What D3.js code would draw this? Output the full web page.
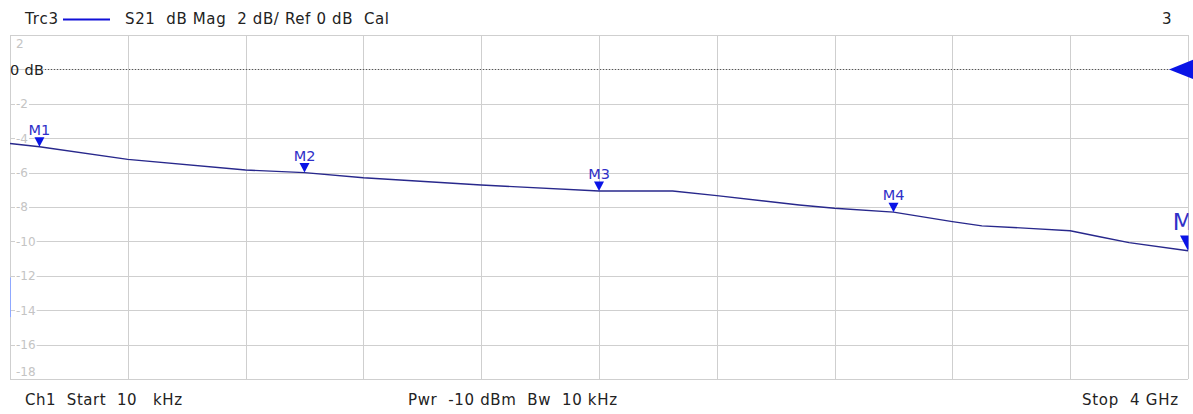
<!DOCTYPE html>
<html>
<head>
<meta charset="utf-8">
<script src="https://cdn.jsdelivr.net/npm/d3@7"></script>
<style>
  body { margin: 0; background: #fff; }
  svg text { font-family: "DejaVu Sans", Verdana, sans-serif; }
</style>
</head>
<body>
<svg id="chart" width="1193" height="414"></svg>
<script>
// trace S21 (frequency in GHz, magnitude in dB)
const freqGHz = [0.00001, 0.1, 0.4, 0.8, 1.0, 1.2, 1.6, 2.0, 2.25, 2.4, 2.68, 2.8, 3.0, 3.2, 3.3, 3.46, 3.6, 3.7, 3.8, 4.0];
const magDb   = [-4.31, -4.5, -5.23, -5.85, -6.0, -6.3, -6.72, -7.07, -7.07, -7.34, -7.88, -8.07, -8.3, -8.85, -9.1, -9.24, -9.38, -9.73, -10.07, -10.54];

const markerNames = ['M1', 'M2', 'M3', 'M4', 'M5'];
const markerFreq  = [0.1, 1.0, 2.0, 3.0, 4.0];
const markerDb    = [-4.5, -6.0, -7.07, -8.3, -10.54];

const yTicks = [2, 0, -2, -4, -6, -8, -10, -12, -14, -16, -18];
const xGridGHz = [0, 0.4, 0.8, 1.2, 1.6, 2.0, 2.4, 2.8, 3.2, 3.6, 4.0];

const W = 1193, H = 414;
const pL = 10, pR = 1188, pT = 35, pB = 379;

const svg = d3.select('#chart');

const x = d3.scaleLinear().domain([0, 4]).range([pL, pR]);
const y = d3.scaleLinear().domain([2, -18]).range([pT, pB]);

svg.append('defs').append('clipPath').attr('id', 'plot')
  .append('rect').attr('x', pL).attr('y', pT)
  .attr('width', pR - pL + 0.5).attr('height', pB - pT);

// grid
const grid = svg.append('g').attr('stroke', '#cfcfcf').attr('stroke-width', 1);
grid.selectAll('line.v').data(xGridGHz).enter().append('line')
  .attr('x1', d => Math.round(x(d)) + 0.5).attr('x2', d => Math.round(x(d)) + 0.5)
  .attr('y1', pT).attr('y2', pB);
grid.selectAll('line.h').data(yTicks).enter().append('line')
  .attr('x1', pL).attr('x2', pR)
  .attr('y1', d => Math.round(y(d)) + 0.5).attr('y2', d => Math.round(y(d)) + 0.5);

// y tick labels (inside the plot, light grey, white background)
const tl = svg.append('g');
yTicks.forEach(v => {
  if (v === 0) return;
  let yy = y(v);
  if (v === 2) yy += 9;
  if (v === -18) yy -= 7;
  const t = tl.append('text')
    .attr('x', 16).attr('y', yy).attr('dy', '0.36em')
    .attr('font-size', 12).attr('fill', '#c4c4c4')
    .text(v < 0 ? '-' + Math.abs(v) : String(v));
  const bb = t.node().getBBox();
  if (v !== 2 && v !== -18) {
    tl.insert('rect', 'text').attr('x', bb.x - 1).attr('y', bb.y + 2)
      .attr('width', bb.width + 2).attr('height', bb.height - 4).attr('fill', '#fff');
  }
});

// reference line 0 dB
svg.append('line')
  .attr('x1', 45).attr('x2', 1170)
  .attr('y1', Math.round(y(0)) + 0.5).attr('y2', Math.round(y(0)) + 0.5)
  .attr('stroke', '#555').attr('stroke-dasharray', '1,2');
svg.append('text').attr('x', pL).attr('y', y(0)).attr('dy', '0.36em')
  .attr('font-size', 14.5).attr('fill', '#222')
  .attr('textLength', 34).attr('lengthAdjust', 'spacing').text('0 dB');
svg.append('path')
  .attr('d', `M${x(4) - 19},${y(0)} L${x(4) + 6},${y(0) - 10} L${x(4) + 6},${y(0) + 10} Z`)
  .attr('fill', '#0a14e6');

// faint blue stub on left edge
svg.append('line').attr('x1', pL + 0.5).attr('x2', pL + 0.5)
  .attr('y1', y(-12.1)).attr('y2', y(-14.4))
  .attr('stroke', '#8fa8ff').attr('stroke-width', 1);

// trace
const plot = svg.append('g').attr('clip-path', 'url(#plot)');
const line = d3.line().x((d, i) => x(freqGHz[i])).y(d => y(d));
plot.append('path').datum(magDb)
  .attr('d', line)
  .attr('fill', 'none').attr('stroke', '#28288c').attr('stroke-width', 1.4);

// markers
markerNames.forEach((name, i) => {
  const mx = x(markerFreq[i]), my = y(markerDb[i]);
  const s = i === 4 ? 1.6 : 1;
  const g = plot.append('g').attr('transform', `translate(${mx},${my})`);
  g.append('path')
    .attr('d', `M0,0 L${-5 * s},${-9.5 * s} L${5 * s},${-9.5 * s} Z`)
    .attr('fill', '#0a14e6');
  g.append('text')
    .attr('x', i === 4 ? 2 : 0).attr('y', -12 * s - (i === 4 ? 2 : 0))
    .attr('text-anchor', 'middle')
    .attr('font-family', '"Liberation Sans", Arial, sans-serif')
    .attr('font-size', i === 4 ? 23 : 14.5)
    .attr('fill', '#3030c8')
    .text(name);
});

// header + footer texts: [text, x start, width, baseline]
const labels = [
  ['Trc3', 25, 33, 24],
  ['S21  dB Mag  2 dB/ Ref 0 dB  Cal', 125, 264, 24],
  ['3', 1162, 9, 24],
  ['Ch1  Start  10   kHz', 25, 157, 405],
  ['Pwr  -10 dBm  Bw  10 kHz', 408, 209, 405],
  ['Stop  4 GHz', 1082, 96, 405]
];
svg.selectAll('text.lbl').data(labels).enter().append('text')
  .attr('class', 'lbl')
  .attr('x', d => d[1]).attr('y', d => d[3])
  .attr('font-size', 15).attr('fill', '#222')
  .attr('xml:space', 'preserve')
  .attr('textLength', d => d[2]).attr('lengthAdjust', 'spacing')
  .text(d => d[0]);

svg.append('line').attr('x1', 63).attr('x2', 110).attr('y1', 19.5).attr('y2', 19.5)
  .attr('stroke', '#1010d8').attr('stroke-width', 2);
</script>
</body>
</html>
